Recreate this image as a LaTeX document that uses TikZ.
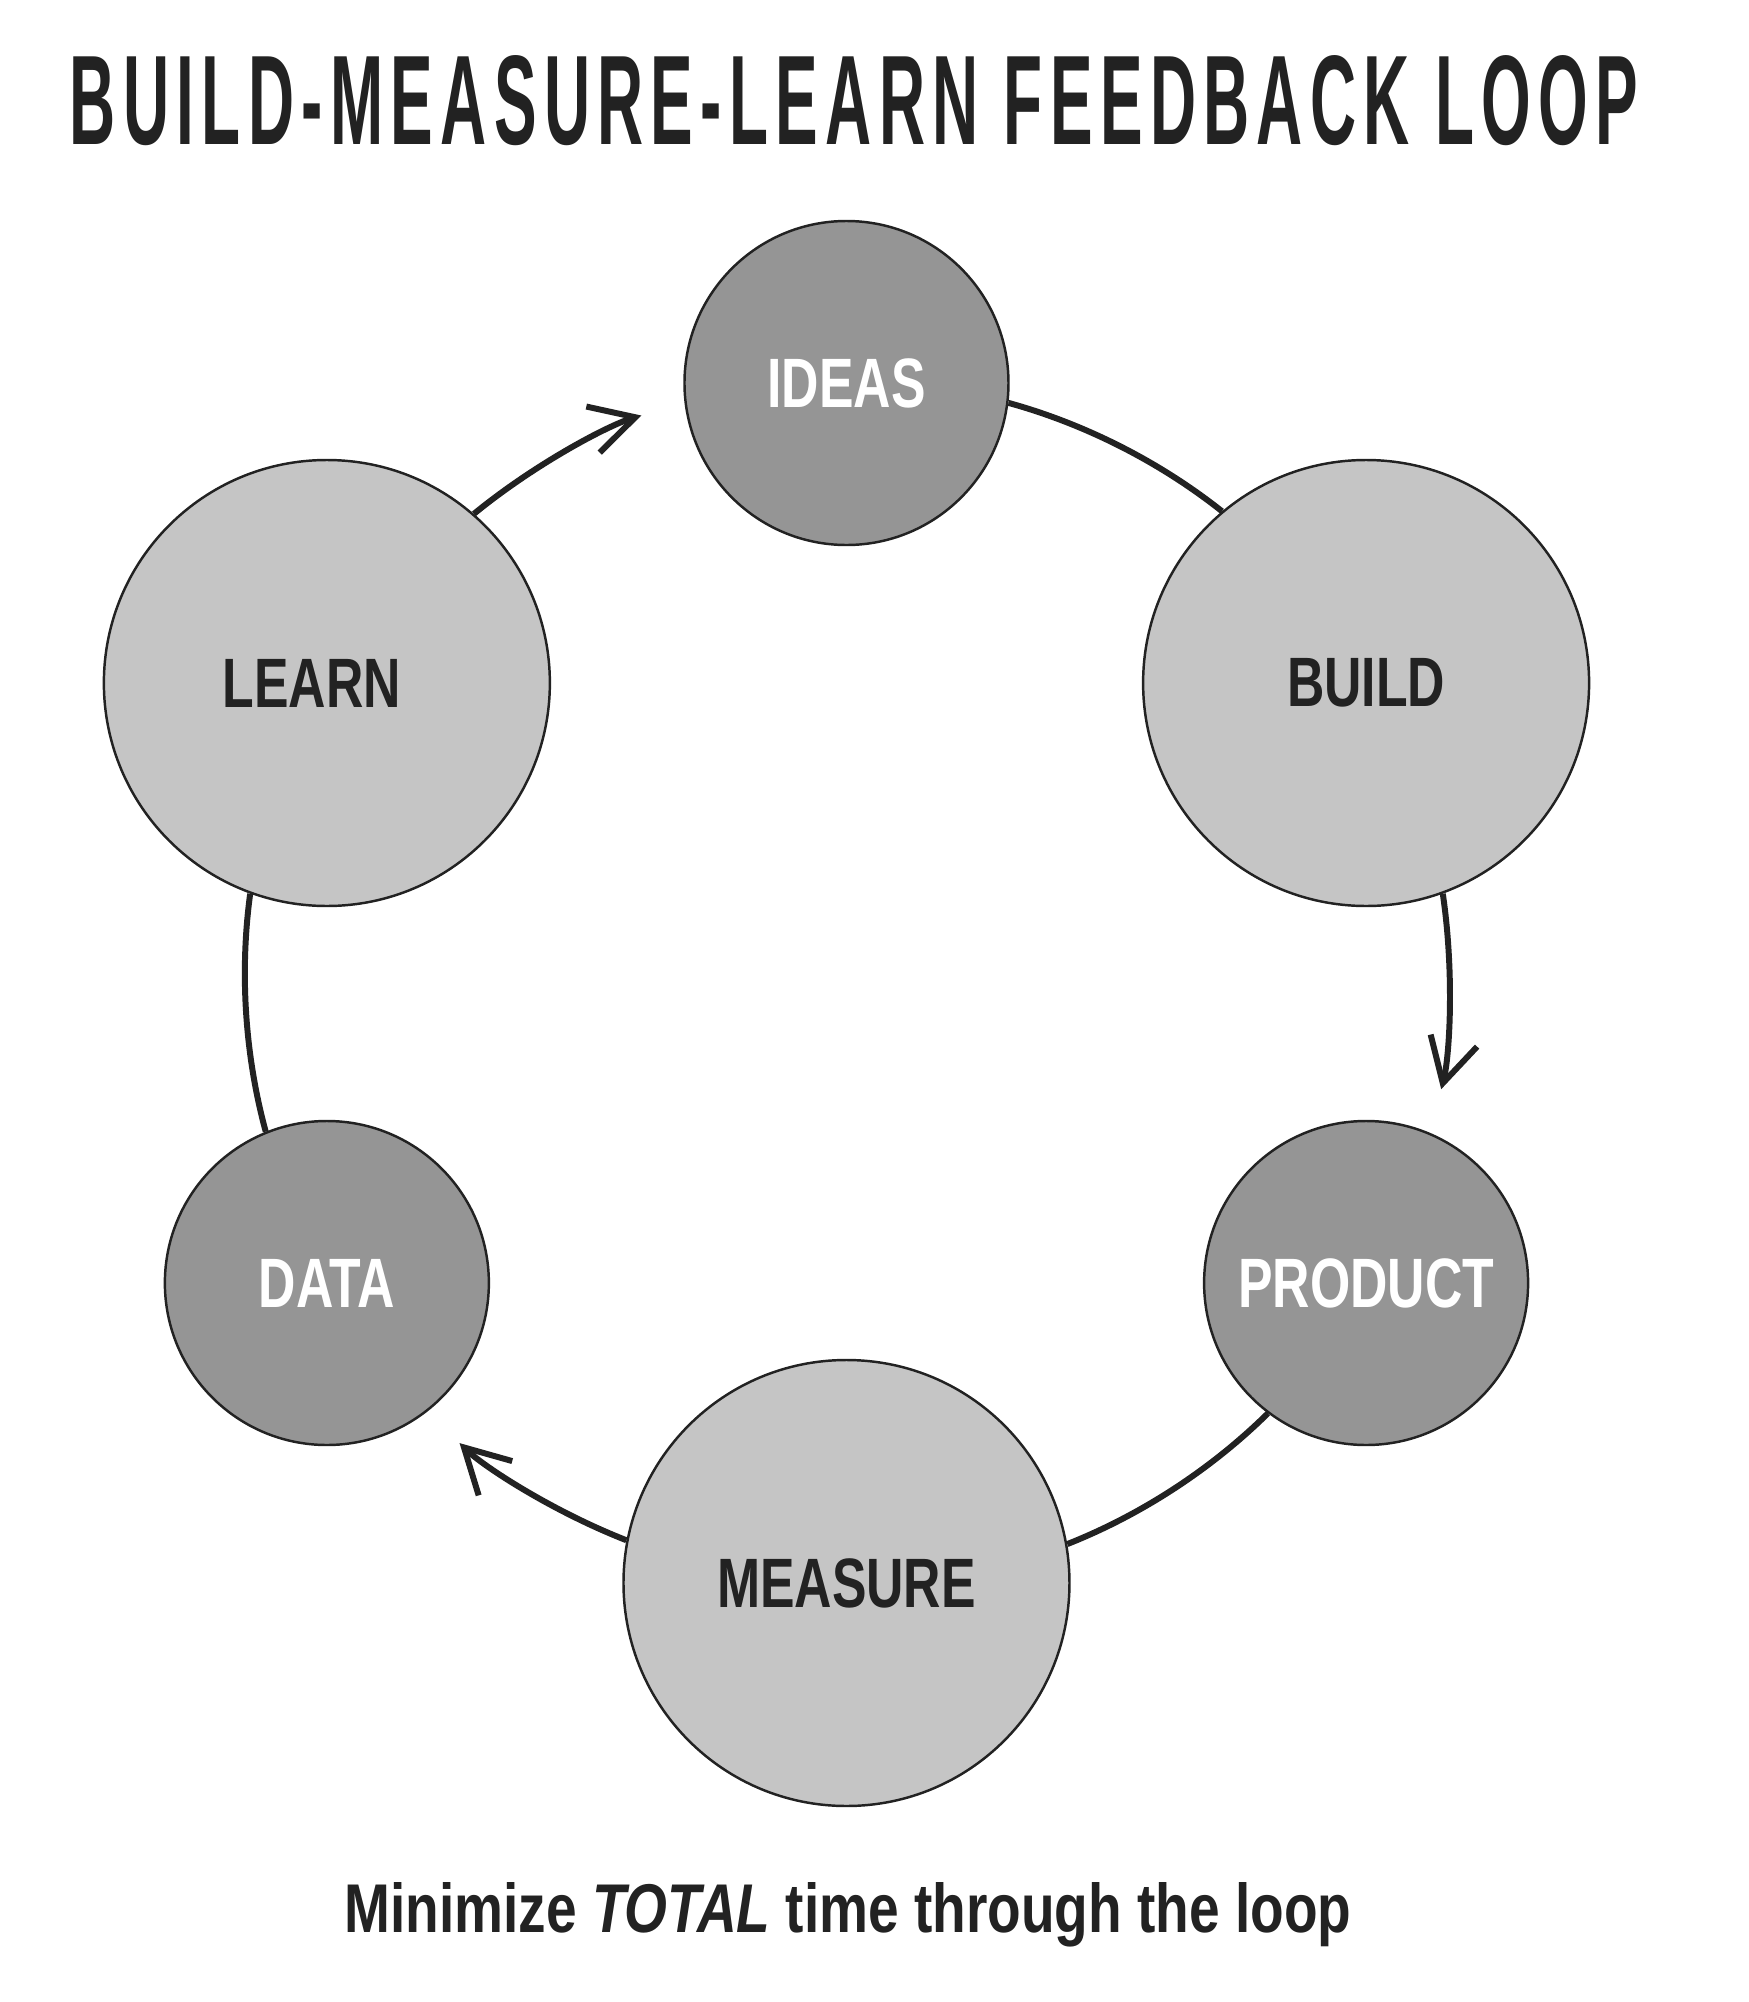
\documentclass[tikz,border=0pt]{standalone}
\usepackage{fontspec}
\setmainfont{Liberation Sans}
\newfontfamily\condfont[FakeStretch=0.74]{Liberation Sans}
\newfontfamily\titlefont[FakeStretch=0.52, LetterSpace=6]{Liberation Sans}
\usepackage{graphicx}
\usepackage{xcolor}
\usetikzlibrary{arrows.meta}

\definecolor{ink}{HTML}{222222}
\definecolor{darkfill}{HTML}{959595}
\definecolor{lightfill}{HTML}{C5C5C5}

\tikzset{
  stage/.style={draw=ink, line width=0.7pt, circle, inner sep=0pt,
    font=\condfont\bfseries\fontsize{19.9pt}{24pt}\selectfont},
  smallstage/.style={stage, fill=darkfill, minimum size=3.24cm, text=white},
  bigstage/.style={stage, fill=lightfill, minimum size=4.46cm, text=ink},
  loopline/.style={draw=ink, line width=1.7pt, bend left=11.5, looseness=0.85}
}

\begin{document}
\begin{tikzpicture}[>={Straight Barb[length=4.4mm, width=4.8mm]}]
\useasboundingbox (-8.465,-10.19) rectangle (9.015,9.83);

% title and caption
\node[anchor=base, text=ink, inner sep=0pt] (title) at (0.075,8.39)
  {\resizebox{15.68cm}{0.89cm}{\titlefont\bfseries BUILD-MEASURE-LEARN FEEDBACK LOOP}};
\node[anchor=base, text=ink, inner sep=0pt] (caption) at (0.015,-9.49)
  {\resizebox{10.07cm}{0.5cm}{\bfseries Minimize \textit{TOTAL} time through the loop}};

% the six stages
\node[smallstage] (ideas)   at (90:6)   {IDEAS};
\node[bigstage]   (build)   at (30:6)   {BUILD};
\node[smallstage] (product) at (-30:6)  {PRODUCT};
\node[bigstage]   (measure) at (-90:6)  {MEASURE};
\node[smallstage] (data)    at (-150:6) {DATA};
\node[bigstage]   (learn)   at (150:6)  {\hspace*{-0.3cm}LEARN};

% loop
\draw[loopline] (ideas.-7.76) to (build.130.71);
\draw[loopline, ->, shorten >=4.5mm] (build.-70.71) to (product.67.76);
\draw[loopline] (product.-127.76) to (measure.10.71);
\draw[loopline, ->, shorten >=4.5mm] (measure.169.29) to (data.-52.24);
\draw[loopline] (data.112.24) to (learn.250.71);
\draw[loopline, ->, shorten >=4.5mm] (learn.49.29) to (ideas.187.76);
\end{tikzpicture}
\end{document}
